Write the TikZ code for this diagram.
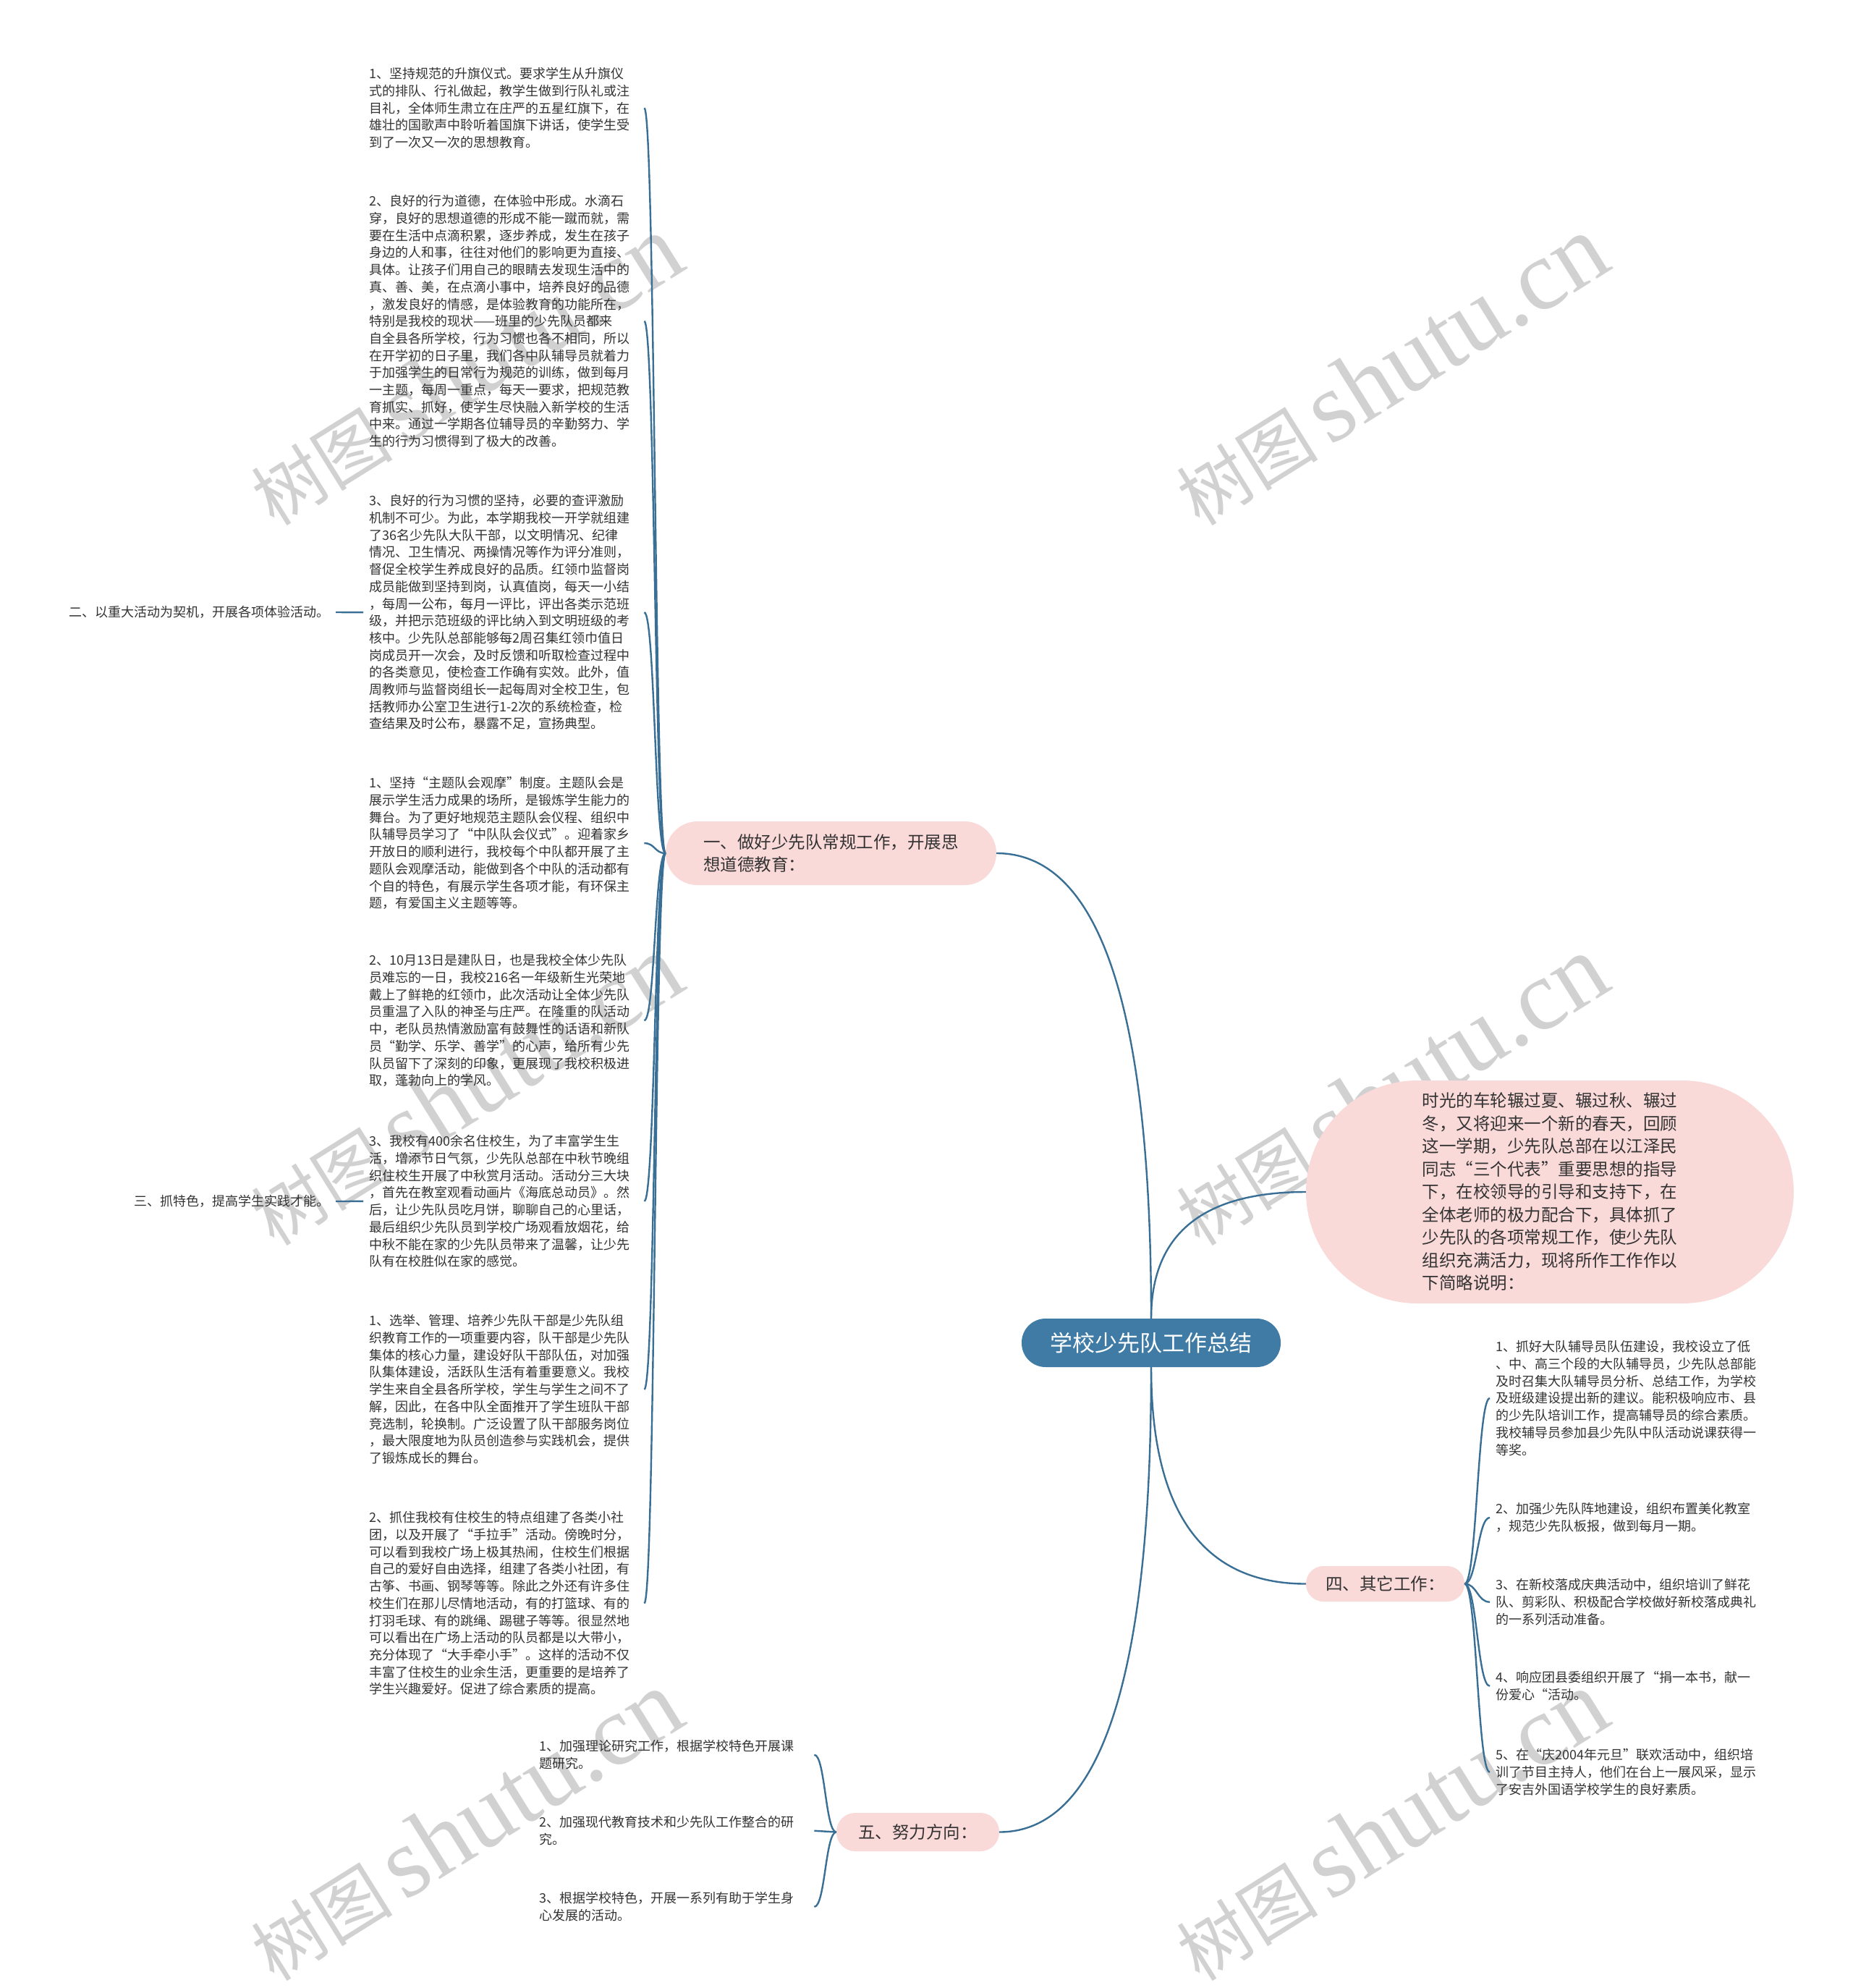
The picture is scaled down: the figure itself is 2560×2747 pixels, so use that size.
\documentclass[tikz,border=0pt]{standalone}
\usepackage{fontspec}
\setmainfont{Noto Sans CJK SC}
\newfontfamily\wmserif{Liberation Serif}
\usetikzlibrary{calc}
\definecolor{linkblue}{HTML}{3A6F95}
\definecolor{rootblue}{HTML}{3F7BA5}
\definecolor{pinkfill}{HTML}{FAD9D9}
\definecolor{txt}{HTML}{333333}
\definecolor{wmgray}{HTML}{BEBEBE}
\begin{document}
\begin{tikzpicture}[x=1pt,y=-1pt,
  leaf/.style={anchor=base west, text width=372pt, align=left, inner xsep=8pt, inner ysep=0pt, font=\fontsize{18}{23.7}\selectfont, text=txt},
  sidelabel/.style={anchor=east, inner xsep=8pt, inner ysep=0pt, font=\fontsize{18}{23.7}\selectfont, text=txt},
  lvlone/.style={fill=pinkfill, align=left, inner sep=0pt, font=\fontsize{23.5}{31.5}\selectfont, text=txt},
  rootbox/.style={fill=rootblue, inner sep=0pt, rounded corners=33pt, minimum width=358pt, minimum height=67pt, font=\fontsize{31}{36}\selectfont, text=white},
  link/.style={draw=linkblue, line width=2.4pt},
  wmark/.style={rotate=32, text=wmgray, opacity=0.7, inner sep=0pt}
]
\useasboundingbox (0,0) rectangle (2560,2747);
\fill[white] (0,0) rectangle (2560,2747);

% watermarks
\foreach \wx/\wy [count=\wi] in {643/512, 1922/512, 643/1507, 1922/1507, 643/2523, 1922/2523}{
  \node[wmark] (wm\wi) at (\wx,\wy) {{\fontsize{98}{98}\selectfont 树图}\hspace{16pt}{\wmserif\fontsize{138}{138}\selectfont shutu.cn}};
}

% root and level-1 nodes
\node[rootbox] (root) at (1591,1855.5) {学校少先队工作总结};
\node[lvlone, rounded corners=44pt, minimum width=457pt, minimum height=88pt] (n1) at (1148.5,1179) {一、做好少先队常规工作，开展思\\想道德教育：};
\node[lvlone, rounded corners=154pt, minimum width=674pt, minimum height=308pt] (nI) at (2142,1647) {时光的车轮辗过夏、辗过秋、辗过\\冬，又将迎来一个新的春天，回顾\\这一学期，少先队总部在以江泽民\\同志“三个代表”重要思想的指导\\下，在校领导的引导和支持下，在\\全体老师的极力配合下，具体抓了\\少先队的各项常规工作，使少先队\\组织充满活力，现将所作工作作以\\下简略说明：};
\node[lvlone, rounded corners=24pt, minimum width=219pt, minimum height=49pt] (n4) at (1914.5,2188.5) {四、其它工作：};
\node[lvlone, rounded corners=26pt, minimum width=225pt, minimum height=53pt] (n5) at (1268.5,2531.5) {五、努力方向：};

% left leaves
\node[leaf] (b1) at (502,108.8) {1、坚持规范的升旗仪式。要求学生从升旗仪\\式的排队、行礼做起，教学生做到行队礼或注\\目礼，全体师生肃立在庄严的五星红旗下，在\\雄壮的国歌声中聆听着国旗下讲话，使学生受\\到了一次又一次的思想教育。};
\node[leaf] (b2) at (502,284.8) {2、良好的行为道德，在体验中形成。水滴石\\穿，良好的思想道德的形成不能一蹴而就，需\\要在生活中点滴积累，逐步养成，发生在孩子\\身边的人和事，往往对他们的影响更为直接、\\具体。让孩子们用自己的眼睛去发现生活中的\\真、善、美，在点滴小事中，培养良好的品德\\，激发良好的情感，是体验教育的功能所在，\\特别是我校的现状——班里的少先队员都来\\自全县各所学校，行为习惯也各不相同，所以\\在开学初的日子里，我们各中队辅导员就着力\\于加强学生的日常行为规范的训练，做到每月\\一主题，每周一重点，每天一要求，把规范教\\育抓实、抓好，使学生尽快融入新学校的生活\\中来。通过一学期各位辅导员的辛勤努力、学\\生的行为习惯得到了极大的改善。};
\node[leaf] (b3) at (502,698.8) {3、良好的行为习惯的坚持，必要的查评激励\\机制不可少。为此，本学期我校一开学就组建\\了36名少先队大队干部，以文明情况、纪律\\情况、卫生情况、两操情况等作为评分准则，\\督促全校学生养成良好的品质。红领巾监督岗\\成员能做到坚持到岗，认真值岗，每天一小结\\，每周一公布，每月一评比，评出各类示范班\\级，并把示范班级的评比纳入到文明班级的考\\核中。少先队总部能够每2周召集红领巾值日\\岗成员开一次会，及时反馈和听取检查过程中\\的各类意见，使检查工作确有实效。此外，值\\周教师与监督岗组长一起每周对全校卫生，包\\括教师办公室卫生进行1-2次的系统检查，检\\查结果及时公布，暴露不足，宣扬典型。};
\node[leaf] (b4) at (502,1088.8) {1、坚持“主题队会观摩”制度。主题队会是\\展示学生活力成果的场所，是锻炼学生能力的\\舞台。为了更好地规范主题队会仪程、组织中\\队辅导员学习了“中队队会仪式”。迎着家乡\\开放日的顺利进行，我校每个中队都开展了主\\题队会观摩活动，能做到各个中队的活动都有\\个自的特色，有展示学生各项才能，有环保主\\题，有爱国主义主题等等。};
\node[leaf] (b5) at (502,1333.8) {2、10月13日是建队日，也是我校全体少先队\\员难忘的一日，我校216名一年级新生光荣地\\戴上了鲜艳的红领巾，此次活动让全体少先队\\员重温了入队的神圣与庄严。在隆重的队活动\\中，老队员热情激励富有鼓舞性的话语和新队\\员“勤学、乐学、善学”的心声，给所有少先\\队员留下了深刻的印象，更展现了我校积极进\\取，蓬勃向上的学风。};
\node[leaf] (b6) at (502,1583.8) {3、我校有400余名住校生，为了丰富学生生\\活，增添节日气氛，少先队总部在中秋节晚组\\织住校生开展了中秋赏月活动。活动分三大块\\，首先在教室观看动画片《海底总动员》。然\\后，让少先队员吃月饼，聊聊自己的心里话，\\最后组织少先队员到学校广场观看放烟花，给\\中秋不能在家的少先队员带来了温馨，让少先\\队有在校胜似在家的感觉。};
\node[leaf] (b7) at (502,1831.8) {1、选举、管理、培养少先队干部是少先队组\\织教育工作的一项重要内容，队干部是少先队\\集体的核心力量，建设好队干部队伍，对加强\\队集体建设，活跃队生活有着重要意义。我校\\学生来自全县各所学校，学生与学生之间不了\\解，因此，在各中队全面推开了学生班队干部\\竞选制，轮换制。广泛设置了队干部服务岗位\\，最大限度地为队员创造参与实践机会，提供\\了锻炼成长的舞台。};
\node[leaf] (b8) at (502,2103.8) {2、抓住我校有住校生的特点组建了各类小社\\团，以及开展了“手拉手”活动。傍晚时分，\\可以看到我校广场上极其热闹，住校生们根据\\自己的爱好自由选择，组建了各类小社团，有\\古筝、书画、钢琴等等。除此之外还有许多住\\校生们在那儿尽情地活动，有的打篮球、有的\\打羽毛球、有的跳绳、踢毽子等等。很显然地\\可以看出在广场上活动的队员都是以大带小，\\充分体现了“大手牵小手”。这样的活动不仅\\丰富了住校生的业余生活，更重要的是培养了\\学生兴趣爱好。促进了综合素质的提高。};

\node[sidelabel] (l2) at (464,846) {二、以重大活动为契机，开展各项体验活动。};
\node[sidelabel] (l3) at (464,1660) {三、抓特色，提高学生实践才能。};

% 五 leaves
\node[leaf] (f1) at (737,2419.8) {1、加强理论研究工作，根据学校特色开展课\\题研究。};
\node[leaf] (f2) at (737,2524.8) {2、加强现代教育技术和少先队工作整合的研\\究。};
\node[leaf] (f3) at (737,2629.8) {3、根据学校特色，开展一系列有助于学生身\\心发展的活动。};

% 四 leaves
\node[leaf] (r1) at (2059,1867.8) {1、抓好大队辅导员队伍建设，我校设立了低\\、中、高三个段的大队辅导员，少先队总部能\\及时召集大队辅导员分析、总结工作，为学校\\及班级建设提出新的建议。能积极响应市、县\\的少先队培训工作，提高辅导员的综合素质。\\我校辅导员参加县少先队中队活动说课获得一\\等奖。};
\node[leaf] (r2) at (2059,2091.8) {2、加强少先队阵地建设，组织布置美化教室\\，规范少先队板报，做到每月一期。};
\node[leaf] (r3) at (2059,2196.8) {3、在新校落成庆典活动中，组织培训了鲜花\\队、剪彩队、积极配合学校做好新校落成典礼\\的一系列活动准备。};
\node[leaf] (r4) at (2059,2324.8) {4、响应团县委组织开展了“捐一本书，献一\\份爱心“活动。};
\node[leaf] (r5) at (2059,2431.8) {5、在“庆2004年元旦”联欢活动中，组织培\\训了节目主持人，他们在台上一展风采，显示\\了安吉外国语学校学生的良好素质。};

% root connectors (quadratic-like curves)
\coordinate (k1) at (root.north |- n1.east);
\coordinate (kI) at (root.north |- nI.west);
\coordinate (k4) at (root.south |- n4.west);
\coordinate (k5) at (root.south |- n5.east);
\draw[link] (root.north) .. controls ($(root.north)!0.667!(k1)$) and ($(n1.east)!0.667!(k1)$) .. (n1.east);
\draw[link] (root.north) .. controls ($(root.north)!0.667!(kI)$) and ($(nI.west)!0.667!(kI)$) .. (nI.west);
\draw[link] (root.south) .. controls ($(root.south)!0.667!(k4)$) and ($(n4.west)!0.667!(k4)$) .. (n4.west);
\draw[link] (root.south) .. controls ($(root.south)!0.667!(k5)$) and ($(n5.east)!0.667!(k5)$) .. (n5.east);

% 一 children
\foreach \b in {b1,b2,b3,b4,b5,b6,b7,b8}{
  \draw[link] (n1.west) .. controls ($(n1.west)+(-15,0)$) and ($(\b.east)+(15,0)$) .. (\b.east);
}
\draw[link] (b3.west) -- (l2.east);
\draw[link] (b6.west) -- (l3.east);

% 四 children
\foreach \r in {r1,r2,r3,r4,r5}{
  \draw[link] (n4.east) .. controls ($(n4.east)+(17,0)$) and ($(\r.west)+(-17,0)$) .. (\r.west);
}
% 五 children
\foreach \f in {f1,f2,f3}{
  \draw[link] (n5.west) .. controls ($(n5.west)+(-15,0)$) and ($(\f.east)+(15,0)$) .. (\f.east);
}
\end{tikzpicture}
\end{document}
